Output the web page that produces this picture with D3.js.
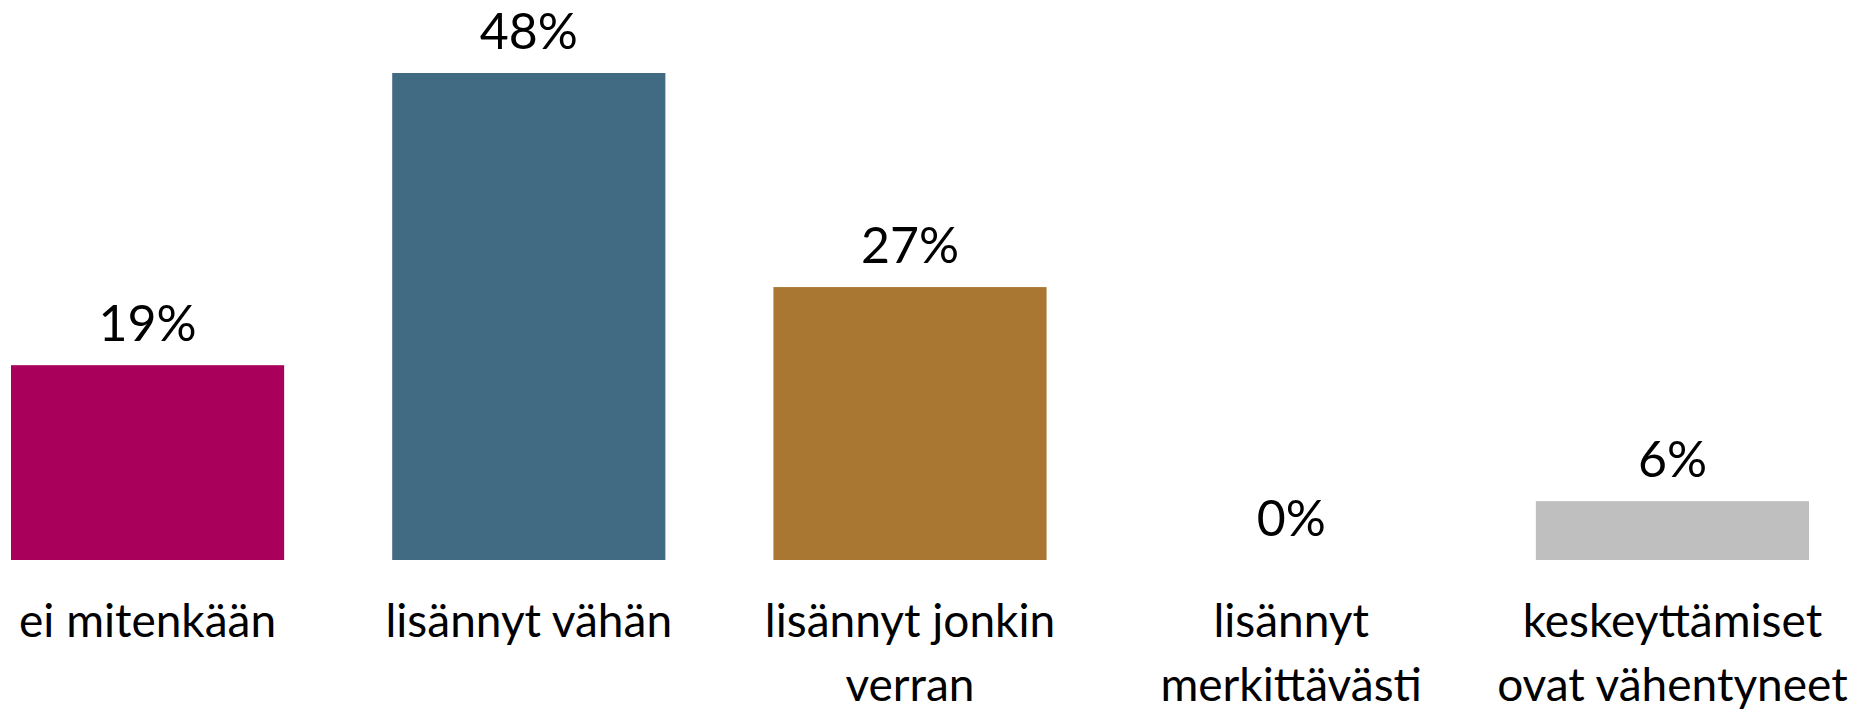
<!DOCTYPE html>
<html>
<head>
<meta charset="utf-8">
<script src="https://cdn.jsdelivr.net/npm/d3@7"></script>
<style>
  body { margin: 0; background: #fff; }
  text { font-family: "Source Sans Pro", Lato, sans-serif; fill: #000; }
</style>
</head>
<body>
<script>
const categories = [
  ["ei mitenkään"],
  ["lisännyt vähän"],
  ["lisännyt jonkin", "verran"],
  ["lisännyt", "merkittävästi"],
  ["keskeyttämiset", "ovat vähentyneet"]
]
const values = [19.2, 48, 26.9, 0, 5.8]
const valueLabels = ["19%", "48%", "27%", "0%", "6%"]
const colors = ["#a9005b", "#416a83", "#a97732", "#7f7f7f", "#bfbfbf"]

const width = 1867, height = 711
const margins = {top: 73, bottom: 151, left: 11, right: 58}

const svg = d3.select('body').append('svg')
  .attr('width', width)
  .attr('height', height)

const x = d3.scaleBand()
  .domain(d3.range(values.length))
  .range([margins.left, width - margins.right])
  .paddingInner(108 / 381)
  .paddingOuter(0)

const y = d3.scaleLinear()
  .domain([0, 48])
  .range([height - margins.bottom, margins.top])

svg.append('g')
  .selectAll('rect')
  .data(values)
  .join('rect')
    .attr('x', (d, i) => x(i))
    .attr('y', d => y(d))
    .attr('width', x.bandwidth())
    .attr('height', d => y(0) - y(d))
    .attr('fill', (d, i) => colors[i])

svg.append('g')
  .selectAll('text')
  .data(values)
  .join('text')
    .attr('x', (d, i) => x(i) + x.bandwidth() / 2)
    .attr('y', d => y(d) - 24)
    .attr('text-anchor', 'middle')
    .style('font-size', '50px')
    .text((d, i) => valueLabels[i])

const labels = svg.append('g')
  .selectAll('text')
  .data(categories)
  .join('text')
    .attr('x', (d, i) => x(i) + x.bandwidth() / 2)
    .attr('y', y(0) + 77)
    .attr('text-anchor', 'middle')
    .style('font-size', '46px')

labels.selectAll('tspan')
  .data(d => d)
  .join('tspan')
    .attr('x', function() { return this.parentNode.getAttribute('x') })
    .attr('dy', (d, i) => i ? 64 : 0)
    .text(d => d)
</script>
</body>
</html>
